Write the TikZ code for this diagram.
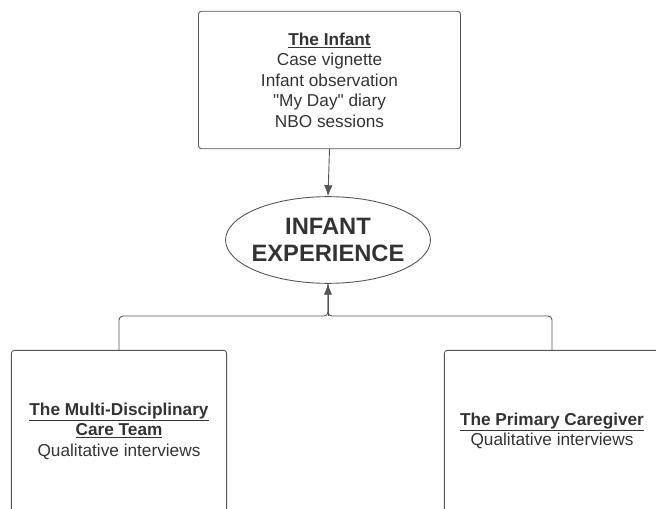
\documentclass[tikz,border=0pt]{standalone}
\usepackage{fontspec}
\setmainfont{Liberation Sans}
\usetikzlibrary{shapes.geometric,arrows.meta}

\definecolor{inkline}{HTML}{555555}
\definecolor{inktext}{HTML}{333333}

\tikzset{
	sourcebox/.style={draw=inkline, line width=0.9, rounded corners=3, align=center,
		text=inktext, font=\fontsize{17.3}{20.5}\selectfont},
	hubellipse/.style={draw=inkline, line width=0.9, ellipse, inner xsep=-4, inner ysep=0, align=center,
		text=inktext, font=\fontsize{23.8}{28}\selectfont\bfseries},
	link/.style={draw=inkline, line width=0.9},
	linkarrow/.style={link, -{Latex[length=11pt,width=8.5pt]}}
}

\begin{document}
\begin{tikzpicture}[x=1bp, y=-1bp]

	% Page frame
	\useasboundingbox (0,0) rectangle (656,509);
	\clip (0,0) rectangle (656,509);

	% Box dimensions
	\def\lowwidth{216}
	\def\lowheight{162}

	% Sources and hub
	\node[sourcebox, minimum width=263, minimum height=138] (infant) at (329.5,80)
		{\textbf{\underline{The Infant}}\\Case vignette\\Infant observation\\\textquotedbl My Day\textquotedbl{} diary\\NBO sessions};
	\node[hubellipse, minimum width=202, minimum height=87] (hub) at (328,240)
		{INFANT\\EXPERIENCE};
	\node[sourcebox, minimum width=\lowwidth, minimum height=\lowheight] (team) at (119,431)
		{\textbf{\underline{The Multi-Disciplinary}}\\\textbf{\underline{Care Team}}\\Qualitative interviews};
	\node[sourcebox, minimum width=\lowwidth, minimum height=\lowheight] (carer) at (552,431)
		{\textbf{\underline{The Primary Caregiver}}\\Qualitative interviews};

	% Connectors
	\coordinate (bus) at (hub.south |- 0,316);
	\draw[linkarrow] (infant.south) -- (hub.north);
	\draw[link, rounded corners=4] (team.north) |- (bus) -- (hub.south);
	\draw[link, rounded corners=4] (carer.north) |- (bus) -- (hub.south);
	\draw[linkarrow] (bus) -- (hub.south);

\end{tikzpicture}
\end{document}
